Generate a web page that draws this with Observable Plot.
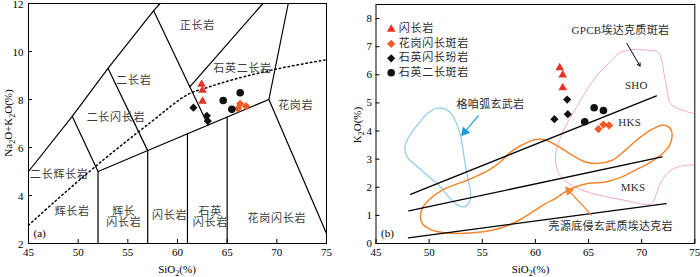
<!DOCTYPE html>
<html><head><meta charset="utf-8">
<script src="https://cdn.jsdelivr.net/npm/d3@7"></script>
<script src="https://cdn.jsdelivr.net/npm/@observablehq/plot@0.6"></script>
<style>
body{margin:0;background:#fff;}
#wrap{position:relative;width:700px;height:277px;overflow:hidden;background:#fff;}
#wrap svg{position:absolute;top:0;}
.cn text{letter-spacing:0.7px;}
.cnb text{letter-spacing:0.3px;}
</style></head><body><div id="wrap"></div>
<script>
const FONT = "'Liberation Serif','Times New Roman','Noto Sans CJK SC',serif";

// ---------- common ----------
const xTicks = [45, 50, 55, 60, 65, 70, 75];
const tasYTicks = [2, 4, 6, 8, 10, 12];
const k2oYTicks = [0, 1, 2, 3, 4, 5, 6, 7, 8];

const seriesNames = ["闪长岩", "花岗闪长斑岩", "石英闪长玢岩", "石英二长斑岩"];
const seriesSymbols = ["triangle", "diamond2", "diamond2", "circle"];
const seriesColors = ["#e8302a", "#f05a24", "#111111", "#111111"];
const seriesR = [3.2, 3.7, 3.7, 3.8];

// ---------- panel (a) TAS data ----------
const tasDioriteSiO2 = [62.42, 62.52, 62.52];
const tasDioriteAlk = [8.63, 8.38, 7.93];
const tasGdPorphSiO2 = [66.1, 66.3, 66.9];
const tasGdPorphAlk = [7.62, 7.82, 7.72];
const tasQdPorphSiO2 = [61.6, 62.95, 63.05];
const tasQdPorphAlk = [7.66, 7.32, 7.1];
const tasQmPorphSiO2 = [64.6, 65.47, 66.31];
const tasQmPorphAlk = [7.96, 7.59, 8.28];

const tasBoundaries = [
  [[45, 5], [49.4, 7.3], [53, 9.3], [57.6, 11.7], [58.25, 12]],
  [[49.4, 7.3], [52, 5], [52, 2]],
  [[53, 9.3], [57, 5.87], [57, 2]],
  [[57.6, 11.7], [63.08, 6.93]],
  [[61.24, 8.53], [68.6, 12]],
  [[71.15, 12], [69.2, 8], [75, 2.42]],
  [[52, 5], [69.2, 8]],
  [[61, 6.57], [61, 2]],
  [[65, 7.27], [65, 2]]
];
const alkalineDivide = [[45, 2.76], [47.6, 3.73], [52, 5.3], [57.33, 7.06], [61, 8.2], [63, 8.5], [65.7, 8.84], [70.1, 9.28], [75, 9.66]];

const tasLabelText = ["正长岩", "石英二长岩", "二长岩", "二长闪长岩", "花岗岩", "二长辉长岩", "辉长岩", "辉长\n闪长岩", "闪长岩", "石英\n闪长岩", "花岗闪长岩"];
const tasLabelX = [62.0, 66.55, 55.6, 53.8, 71.9, 48.1, 49.4, 54.6, 59.2, 63.3, 70.0];
const tasLabelY = [11.09, 9.28, 8.8, 7.24, 7.76, 4.88, 3.31, 3.1, 3.18, 3.1, 3.04];

// ---------- panel (b) K2O data ----------
const kDioriteSiO2 = [62.29, 62.57, 62.57];
const kDioriteK2O = [6.25, 5.99, 5.54];
const kGdPorphSiO2 = [65.93, 66.4, 66.94];
const kGdPorphK2O = [4.07, 4.23, 4.2];
const kQdPorphSiO2 = [61.79, 62.99, 63.05];
const kQdPorphK2O = [4.42, 5.12, 4.6];
const kQmPorphSiO2 = [64.64, 65.53, 66.4];
const kQmPorphK2O = [4.33, 4.83, 4.73];

const k2oSeriesLines = [
  [[48.25, 1.75], [71.39, 5.25]],
  [[48.09, 1.16], [71.92, 3.08]],
  [[48.05, 0.2], [72.3, 1.42]]
];
const gezanArcBasalt = [[50.6,4.8],[51.54,4.78],[52.17,4.57],[52.64,4.21],[52.95,3.85],[53.17,3.38],[53.36,2.9],[53.58,2.43],[53.89,1.84],[53.89,1.6],[53.58,1.36],[53.11,1.3],[52.48,1.42],[51.7,1.72],[50.91,2.07],[49.82,2.43],[48.72,2.79],[47.93,3.08],[47.71,3.38],[47.93,3.68],[48.4,3.97],[49.03,4.27],[49.66,4.57],[50.29,4.74]];
const crustAdakite = [[49.19,0.89],[49.35,0.71],[49.97,0.53],[51.23,0.39],[52.79,0.36],[54.36,0.39],[55.93,0.47],[57.49,0.65],[58.75,0.89],[60.0,1.19],[60.95,1.42],[61.89,1.6],[62.83,1.84],[63.77,2.01],[65.02,2.14],[66.59,2.19],[68.16,2.37],[69.41,2.61],[70.66,2.85],[71.76,3.14],[72.54,3.44],[72.86,3.79],[72.7,4.09],[72.07,4.21],[70.98,4.06],[69.72,3.74],[68.47,3.32],[67.22,2.96],[65.96,2.85],[64.71,2.9],[63.46,3.14],[62.2,3.44],[60.95,3.68],[60.0,3.7],[59.53,3.64],[58.43,3.44],[57.49,3.2],[56.71,2.9],[55.61,2.61],[54.67,2.43],[53.58,2.25],[52.48,2.1],[51.23,1.9],[50.13,1.6],[49.35,1.25]];
const gpcbAdakite = [[74.9,4.63],[73.8,4.74],[72.7,4.98],[72.4,5.46],[72.1,6.05],[71.8,6.64],[71.5,6.82],[70.4,6.88],[69.1,6.9],[67.84,6.76],[66.9,6.41],[65.96,6.05],[65.02,5.57],[64.08,4.98],[63.14,4.39],[62.52,3.91],[62.05,3.44],[61.89,2.96],[62.2,2.49],[63.14,2.14],[64.4,1.9],[65.96,1.72],[67.53,1.6],[69.1,1.48],[70.35,1.39],[70.98,1.42],[71.29,1.66],[71.76,2.14],[72.54,2.55],[73.49,2.73],[74.43,2.79],[74.9,2.79]];

const kLabelText = ["SHO", "HKS", "MKS", "GPCB埃达克质斑岩", "格咱弧玄武岩", "壳源底侵玄武质埃达克岩"];
const kLabelX = [69.5, 68.87, 69.2, 68.0, 55.77, 67.09];
const kLabelY = [5.63, 4.29, 1.98, 7.57, 4.95, 0.59];

// arrows: [x1, y1, x2, y2]
const gpcbArrow = [68.6, 7.12, 69.85, 6.31];
const basaltArrow = [54.67, 4.56, 53.35, 3.97];
const adakiteArrow = [65.3, 1.0, 63.15, 1.88];

// ---------- helpers ----------
function polyRows(lines) {
  return lines.flatMap((pts, id) => pts.map(([x, y]) => ({x, y, id})));
}
function pts(xs, ys) { return xs.map((x, i) => ({x, y: ys[i]})); }
function labels(t, xs, ys) { return t.map((s, i) => ({t: s, x: xs[i], y: ys[i]})); }

function inwardTicks(xt, yt, fw, fh) {
  return [
    Plot.tickX(xt, {x: d => d, insetTop: fh - 4, stroke: "black", strokeWidth: 1}),
    Plot.tickY(yt, {y: d => d, insetRight: fw - 4, stroke: "black", strokeWidth: 1})
  ];
}

function addTitle(svg, x, y, parts, rotate) {
  const t = d3.select(svg).append("text")
    .attr("font-family", FONT).attr("font-size", 11).attr("fill", "black")
    .attr("text-anchor", "middle")
    .attr("transform", `translate(${x},${y})` + (rotate ? " rotate(-90)" : ""));
  let sub = false;
  parts.forEach(([s, isSub]) => {
    const ts = t.append("tspan").text(s);
    if (isSub && !sub) { ts.attr("dy", 3).attr("font-size", 8); sub = true; }
    else if (!isSub && sub) { ts.attr("dy", -3); sub = false; }
  });
}

const wrap = document.getElementById("wrap");

// ---------- panel (a) ----------
{
  const W = 350, H = 277, mL = 28, mR = 24, mT = 3, mB = 34;
  const fw = W - mL - mR, fh = H - mT - mB;
  const tasSeries = [
    pts(tasDioriteSiO2, tasDioriteAlk),
    pts(tasGdPorphSiO2, tasGdPorphAlk),
    pts(tasQdPorphSiO2, tasQdPorphAlk),
    pts(tasQmPorphSiO2, tasQmPorphAlk)
  ];
  const svg = Plot.plot({
    width: W, height: H, marginLeft: mL, marginRight: mR, marginTop: mT, marginBottom: mB,
    x: {domain: [45, 75]}, y: {domain: [2, 12]},
    style: {fontFamily: FONT, fontSize: "11px", color: "black", background: "white", overflow: "visible"},
    marks: [
      Plot.line(polyRows(tasBoundaries), {x: "x", y: "y", z: "id", stroke: "black", strokeWidth: 1.2}),
      Plot.line(alkalineDivide, {x: d => d[0], y: d => d[1], stroke: "black", strokeWidth: 1.5, strokeDasharray: "1.5,3", curve: "catmull-rom"}),
      Plot.text(labels(tasLabelText, tasLabelX, tasLabelY), {x: "x", y: "y", text: "t", fontFamily: FONT, fontSize: 11, fill: "#3a3a3a", lineHeight: 0.97, className: "cn"}),
      Plot.text(["(a)"], {frameAnchor: "bottom-left", dx: 5, dy: -7, textAnchor: "start", lineAnchor: "bottom", fontFamily: FONT, fontSize: 11, fill: "black"}),
      ...tasSeries.map((d, i) => Plot.dot(d, {x: "x", y: "y", symbol: seriesSymbols[i], fill: seriesColors[i], stroke: "none", r: seriesR[i]})),
      Plot.frame({stroke: "black", strokeWidth: 1}),
      ...inwardTicks(xTicks, tasYTicks, fw, fh),
      Plot.axisX({ticks: xTicks, tickSize: 0, tickPadding: 5, label: null, fontSize: 11}),
      Plot.axisY({ticks: tasYTicks, tickSize: 0, tickPadding: 5, label: null, fontSize: 11, dy: 1.3})
    ]
  });
  svg.style.left = "0px";
  addTitle(svg, 177, 272.5, [["SiO"], ["2", true], ["(%)"]], false);
  addTitle(svg, 12, 123, [["Na"], ["2", true], ["O+K"], ["2", true], ["O(%)"]], true);
  wrap.appendChild(svg);
}

// ---------- panel (b) ----------
{
  const W = 350, H = 277, mL = 25.5, mR = 5.7, mT = 4, mB = 34;
  const fw = W - mL - mR, fh = H - mT - mB;
  const kSeries = [
    pts(kDioriteSiO2, kDioriteK2O),
    pts(kGdPorphSiO2, kGdPorphK2O),
    pts(kQdPorphSiO2, kQdPorphK2O),
    pts(kQmPorphSiO2, kQmPorphK2O)
  ];
  const legendMarks = seriesNames.flatMap((name, i) => [
    Plot.dot([0], {frameAnchor: "top-left", dx: 15.2, dy: 24.8 + i * 14.5, symbol: seriesSymbols[i], fill: seriesColors[i], stroke: "none", r: seriesR[i]}),
    Plot.text([name], {frameAnchor: "top-left", dx: 22.8, dy: 24.3 + i * 14.5, textAnchor: "start", lineAnchor: "middle", fontFamily: FONT, fontSize: 11, fill: "#2a2a2a", className: "cn"})
  ]);
  const basaltDir = -140.7, adakiteDir = -43;
  const svg = Plot.plot({
    width: W, height: H, marginLeft: mL, marginRight: mR, marginTop: mT, marginBottom: mB,
    x: {domain: [45, 75]}, y: {domain: [0, 8.5]},
    style: {fontFamily: FONT, fontSize: "11px", color: "black", background: "white", overflow: "visible"},
    marks: [
      Plot.line(gpcbAdakite, {x: d => d[0], y: d => d[1], stroke: "#f5a8c8", strokeWidth: 1, curve: "catmull-rom"}),
      Plot.line(gezanArcBasalt, {x: d => d[0], y: d => d[1], stroke: "#8ccbec", strokeWidth: 1.2, curve: "catmull-rom-closed"}),
      Plot.line(crustAdakite, {x: d => d[0], y: d => d[1], stroke: "#f0862e", strokeWidth: 1.5, curve: "catmull-rom-closed"}),
      Plot.line(polyRows(k2oSeriesLines), {x: "x", y: "y", z: "id", stroke: "black", strokeWidth: 1.3}),
      Plot.arrow([gpcbArrow], {x1: d => d[0], y1: d => d[1], x2: d => d[2], y2: d => d[3], stroke: "black", strokeWidth: 1, headLength: 5}),
      Plot.link([basaltArrow], {x1: d => d[0], y1: d => d[1], x2: d => d[2], y2: d => d[3], stroke: "#1f9ad6", strokeWidth: 1.2}),
      Plot.dot([basaltArrow], {x: d => d[2], y: d => d[3], symbol: "triangle", fill: "#1f9ad6", stroke: "none", r: 3.6, rotate: basaltDir}),
      Plot.link([adakiteArrow], {x1: d => d[0], y1: d => d[1], x2: d => d[2], y2: d => d[3], stroke: "#f0862e", strokeWidth: 1.3}),
      Plot.dot([adakiteArrow], {x: d => d[2], y: d => d[3], symbol: "triangle", fill: "#f0862e", stroke: "none", r: 3.6, rotate: adakiteDir}),
      Plot.text(labels(kLabelText, kLabelX, kLabelY), {x: "x", y: "y", text: "t", fontFamily: FONT, fontSize: 11, fill: "#2a2a2a", className: "cnb"}),
      Plot.text(["(b)"], {frameAnchor: "bottom-left", dx: 5, dy: -7, textAnchor: "start", lineAnchor: "bottom", fontFamily: FONT, fontSize: 11, fill: "black"}),
      ...kSeries.map((d, i) => Plot.dot(d, {x: "x", y: "y", symbol: seriesSymbols[i], fill: seriesColors[i], stroke: "none", r: seriesR[i]})),
      ...legendMarks,
      Plot.frame({stroke: "black", strokeWidth: 1}),
      ...inwardTicks(xTicks, k2oYTicks, fw, fh),
      Plot.axisX({ticks: xTicks, tickSize: 0, tickPadding: 5, label: null, fontSize: 11}),
      Plot.axisY({ticks: k2oYTicks, tickSize: 0, tickPadding: 4, label: null, fontSize: 11})
    ]
  });
  svg.style.left = "350px";
  addTitle(svg, 180.5, 272.5, [["SiO"], ["2", true], ["(%)"]], false);
  addTitle(svg, 10.5, 125, [["K"], ["2", true], ["O(%)"]], true);
  wrap.appendChild(svg);
}
</script></body></html>
